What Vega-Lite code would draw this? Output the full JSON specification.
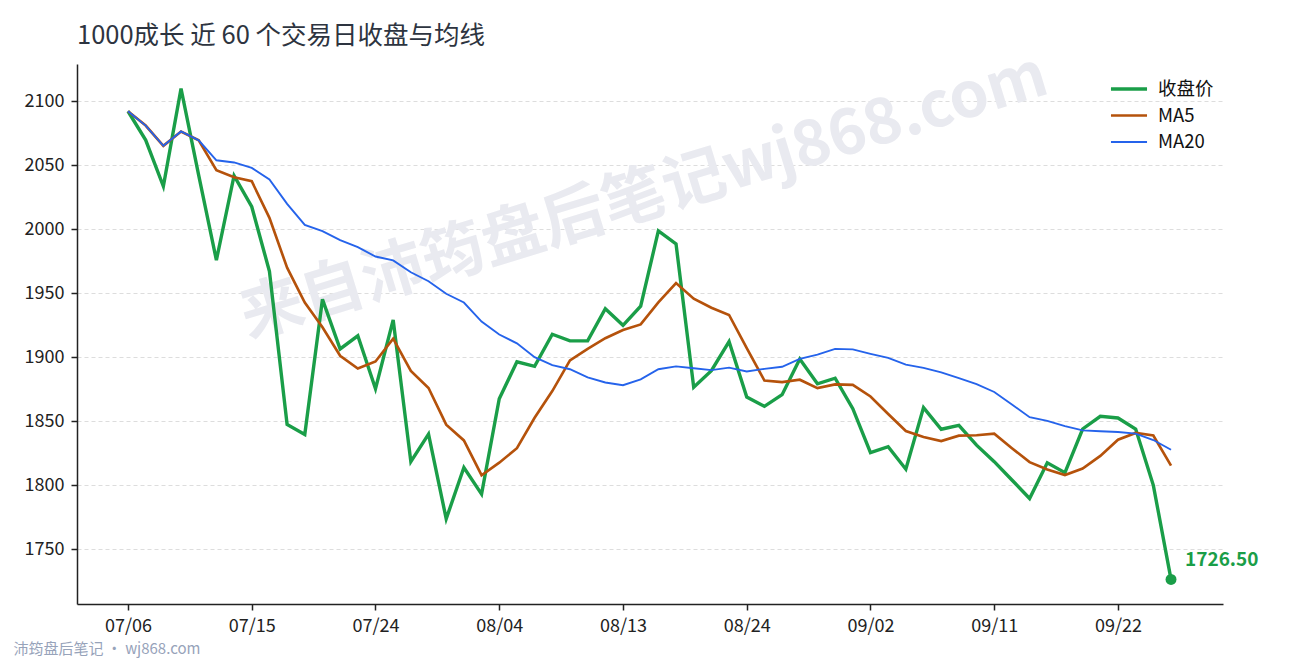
{
  "$schema": "https://vega.github.io/schema/vega-lite/v6.json",
  "description": "1000成长 近 60 个交易日收盘与均线",
  "autosize": "none",
  "width": 1146,
  "height": 540,
  "padding": {"left": 77, "top": 64, "right": 67, "bottom": 56},
  "background": "white",
  "config": {
    "font": "Noto Sans CJK SC",
    "view": {"stroke": null},
    "axis": {
      "domainColor": "#222222",
      "domainWidth": 1.5,
      "tickColor": "#222222",
      "tickWidth": 1.5,
      "tickSize": 6,
      "labelColor": "#222222",
      "labelFontSize": 18,
      "labelPadding": 7
    }
  },
  "title": {
    "text": "1000成长 近 60 个交易日收盘与均线",
    "anchor": "start",
    "frame": "group",
    "fontSize": 25.5,
    "fontWeight": "normal",
    "color": "#2d3440",
    "baseline": "alphabetic",
    "offset": 2,
    "dy": 27
  },
  "data": {
    "values": [
      {"i": 0, "date": "07/06", "收盘价": 2092.2, "MA5": 2092.2, "MA20": 2092.2},
      {"i": 1, "date": "07/07", "收盘价": 2069.7, "MA5": 2081.0, "MA20": 2081.0},
      {"i": 2, "date": "07/08", "收盘价": 2033.6, "MA5": 2065.2, "MA20": 2065.2},
      {"i": 3, "date": "07/11", "收盘价": 2109.9, "MA5": 2076.4, "MA20": 2076.4},
      {"i": 4, "date": "07/12", "收盘价": 2042.1, "MA5": 2069.5, "MA20": 2069.5},
      {"i": 5, "date": "07/13", "收盘价": 1975.9, "MA5": 2046.2, "MA20": 2053.9},
      {"i": 6, "date": "07/14", "收盘价": 2041.8, "MA5": 2040.7, "MA20": 2052.2},
      {"i": 7, "date": "07/15", "收盘价": 2017.6, "MA5": 2037.5, "MA20": 2047.9},
      {"i": 8, "date": "07/17", "收盘价": 1967.2, "MA5": 2008.9, "MA20": 2038.9},
      {"i": 9, "date": "07/18", "收盘价": 1847.5, "MA5": 1970.0, "MA20": 2019.8},
      {"i": 10, "date": "07/19", "收盘价": 1839.7, "MA5": 1942.8, "MA20": 2003.4},
      {"i": 11, "date": "07/20", "收盘价": 1945.3, "MA5": 1923.5, "MA20": 1998.5},
      {"i": 12, "date": "07/21", "收盘价": 1906.5, "MA5": 1901.2, "MA20": 1991.5},
      {"i": 13, "date": "07/22", "收盘价": 1916.8, "MA5": 1891.2, "MA20": 1986.1},
      {"i": 14, "date": "07/24", "收盘价": 1875.4, "MA5": 1896.7, "MA20": 1978.7},
      {"i": 15, "date": "07/25", "收盘价": 1929.2, "MA5": 1914.6, "MA20": 1975.7},
      {"i": 16, "date": "07/26", "收盘价": 1818.5, "MA5": 1889.3, "MA20": 1966.4},
      {"i": 17, "date": "07/27", "收盘价": 1840.0, "MA5": 1876.0, "MA20": 1959.4},
      {"i": 18, "date": "07/28", "收盘价": 1773.8, "MA5": 1847.4, "MA20": 1949.6},
      {"i": 19, "date": "07/31", "收盘价": 1813.9, "MA5": 1835.1, "MA20": 1942.8},
      {"i": 20, "date": "08/02", "收盘价": 1793.1, "MA5": 1807.9, "MA20": 1927.9},
      {"i": 21, "date": "08/04", "收盘价": 1867.6, "MA5": 1817.7, "MA20": 1917.8},
      {"i": 22, "date": "08/05", "收盘价": 1896.5, "MA5": 1829.0, "MA20": 1910.9},
      {"i": 23, "date": "08/07", "收盘价": 1892.9, "MA5": 1852.8, "MA20": 1900.1},
      {"i": 24, "date": "08/08", "收盘价": 1918.0, "MA5": 1873.6, "MA20": 1893.9},
      {"i": 25, "date": "08/09", "收盘价": 1912.8, "MA5": 1897.6, "MA20": 1890.7},
      {"i": 26, "date": "08/10", "收盘价": 1912.8, "MA5": 1906.6, "MA20": 1884.3},
      {"i": 27, "date": "08/11", "收盘价": 1937.9, "MA5": 1914.9, "MA20": 1880.3},
      {"i": 28, "date": "08/13", "收盘价": 1925.0, "MA5": 1921.3, "MA20": 1878.2},
      {"i": 29, "date": "08/14", "收盘价": 1940.0, "MA5": 1925.7, "MA20": 1882.8},
      {"i": 30, "date": "08/16", "收盘价": 1998.7, "MA5": 1942.9, "MA20": 1890.7},
      {"i": 31, "date": "08/17", "收盘价": 1988.6, "MA5": 1958.0, "MA20": 1892.9},
      {"i": 32, "date": "08/18", "收盘价": 1876.6, "MA5": 1945.8, "MA20": 1891.4},
      {"i": 33, "date": "08/21", "收盘价": 1889.5, "MA5": 1938.7, "MA20": 1890.0},
      {"i": 34, "date": "08/22", "收盘价": 1912.3, "MA5": 1933.1, "MA20": 1891.9},
      {"i": 35, "date": "08/24", "收盘价": 1868.9, "MA5": 1907.2, "MA20": 1888.9},
      {"i": 36, "date": "08/25", "收盘价": 1861.7, "MA5": 1881.8, "MA20": 1891.0},
      {"i": 37, "date": "08/28", "收盘价": 1870.8, "MA5": 1880.6, "MA20": 1892.6},
      {"i": 38, "date": "08/29", "收盘价": 1898.7, "MA5": 1882.5, "MA20": 1898.8},
      {"i": 39, "date": "08/30", "收盘价": 1879.3, "MA5": 1875.9, "MA20": 1902.1},
      {"i": 40, "date": "08/31", "收盘价": 1883.7, "MA5": 1878.8, "MA20": 1906.6},
      {"i": 41, "date": "09/01", "收盘价": 1859.9, "MA5": 1878.5, "MA20": 1906.2},
      {"i": 42, "date": "09/02", "收盘价": 1825.5, "MA5": 1869.4, "MA20": 1902.7},
      {"i": 43, "date": "09/04", "收盘价": 1830.2, "MA5": 1855.7, "MA20": 1899.5},
      {"i": 44, "date": "09/05", "收盘价": 1812.6, "MA5": 1842.4, "MA20": 1894.3},
      {"i": 45, "date": "09/06", "收盘价": 1860.7, "MA5": 1837.8, "MA20": 1891.7},
      {"i": 46, "date": "09/07", "收盘价": 1843.8, "MA5": 1834.6, "MA20": 1888.2},
      {"i": 47, "date": "09/08", "收盘价": 1846.9, "MA5": 1838.8, "MA20": 1883.7},
      {"i": 48, "date": "09/10", "收盘价": 1831.4, "MA5": 1839.1, "MA20": 1879.0},
      {"i": 49, "date": "09/11", "收盘价": 1818.5, "MA5": 1840.3, "MA20": 1872.9},
      {"i": 50, "date": "09/12", "收盘价": 1804.2, "MA5": 1829.0, "MA20": 1863.2},
      {"i": 51, "date": "09/14", "收盘价": 1789.7, "MA5": 1818.1, "MA20": 1853.2},
      {"i": 52, "date": "09/15", "收盘价": 1817.6, "MA5": 1812.3, "MA20": 1850.3},
      {"i": 53, "date": "09/18", "收盘价": 1809.9, "MA5": 1808.0, "MA20": 1846.3},
      {"i": 54, "date": "09/19", "收盘价": 1844.0, "MA5": 1813.1, "MA20": 1842.9},
      {"i": 55, "date": "09/20", "收盘价": 1853.9, "MA5": 1823.0, "MA20": 1842.2},
      {"i": 56, "date": "09/22", "收盘价": 1852.6, "MA5": 1835.6, "MA20": 1841.7},
      {"i": 57, "date": "09/25", "收盘价": 1844.0, "MA5": 1840.9, "MA20": 1840.4},
      {"i": 58, "date": "09/26", "收盘价": 1800.0, "MA5": 1838.9, "MA20": 1835.4},
      {"i": 59, "date": "09/27", "收盘价": 1726.5, "MA5": 1815.4, "MA20": 1827.8}
    ]
  },
  "layer": [
    {
      "data": {"values": [{"mark": "来自沛筠盘后笔记wj868.com"}]},
      "mark": {
        "type": "text",
        "angle": 343,
        "fontSize": 63,
        "fontWeight": "bold",
        "color": "#e9eaf0",
        "align": "center",
        "baseline": "middle"
      },
      "encoding": {
        "x": {"datum": 29.2, "type": "quantitative"},
        "y": {"datum": 2025, "type": "quantitative"},
        "text": {"field": "mark", "type": "nominal"}
      }
    },
    {
      "transform": [{"fold": ["收盘价", "MA5", "MA20"], "as": ["series", "value"]}],
      "mark": {"type": "line"},
      "encoding": {
        "x": {
          "field": "i",
          "type": "quantitative",
          "scale": {"domain": [-2.885, 61.94], "nice": false, "zero": false},
          "axis": {
            "values": [0, 7, 14, 21, 28, 35, 42, 49, 56],
            "labelExpr": "['07/06','07/15','07/24','08/04','08/13','08/24','09/02','09/11','09/22'][round(datum.value / 7)]",
            "labelFlush": false,
            "grid": false,
            "title": "沛筠盘后笔记 · wj868.com",
            "titleX": -64,
            "titleY": 44,
            "titleAlign": "left",
            "titleBaseline": "middle",
            "titleFontSize": 15,
            "titleFontWeight": "normal",
            "titleColor": "#97a3ba"
          }
        },
        "y": {
          "field": "value",
          "type": "quantitative",
          "scale": {"domain": [1707.3, 2129.1], "nice": false, "zero": false},
          "axis": {
            "values": [1750, 1800, 1850, 1900, 1950, 2000, 2050, 2100],
            "format": "d",
            "title": null,
            "grid": true,
            "gridDash": [4, 3],
            "gridColor": "#dddddd",
            "gridWidth": 1
          }
        },
        "color": {
          "field": "series",
          "type": "nominal",
          "scale": {"domain": ["收盘价", "MA5", "MA20"], "range": ["#1a9e48", "#b5520b", "#2563eb"]},
          "legend": {
            "title": null,
            "orient": "none",
            "legendX": 1032,
            "legendY": 14,
            "symbolType": "stroke",
            "symbolSize": 1300,
            "labelFontSize": 18.5,
            "labelColor": "#111111",
            "labelOffset": 9,
            "clipHeight": 22,
            "rowPadding": 4.5
          }
        },
        "strokeWidth": {
          "field": "series",
          "type": "nominal",
          "scale": {"domain": ["收盘价", "MA5", "MA20"], "range": [3.4, 1.9, 1.9]},
          "legend": {
            "title": null,
            "orient": "none",
            "legendX": 1032,
            "legendY": 14,
            "symbolType": "stroke",
            "symbolSize": 1300,
            "labelFontSize": 18.5,
            "labelColor": "#111111",
            "labelOffset": 9,
            "clipHeight": 22,
            "rowPadding": 4.5
          }
        }
      }
    },
    {
      "transform": [{"filter": "datum.i === 59"}],
      "mark": {"type": "point", "filled": true, "opacity": 1, "size": 120, "color": "#1a9e48"},
      "encoding": {
        "x": {"field": "i", "type": "quantitative"},
        "y": {"field": "收盘价", "type": "quantitative"}
      }
    },
    {
      "transform": [{"filter": "datum.i === 59"}],
      "mark": {
        "type": "text",
        "align": "left",
        "baseline": "middle",
        "dx": 14,
        "dy": -19,
        "fontSize": 19,
        "fontWeight": "bold",
        "color": "#1a9e48"
      },
      "encoding": {
        "x": {"field": "i", "type": "quantitative"},
        "y": {"field": "收盘价", "type": "quantitative"},
        "text": {"field": "收盘价", "type": "quantitative", "format": ".2f"}
      }
    }
  ]
}
